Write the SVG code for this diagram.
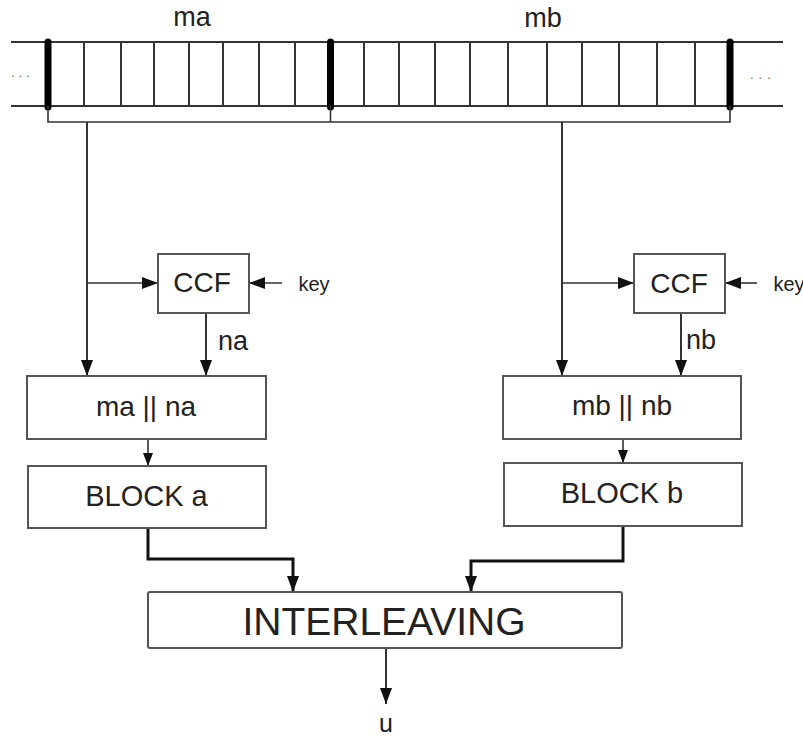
<svg xmlns="http://www.w3.org/2000/svg" width="803" height="739" viewBox="0 0 803 739">
<style>
.box{fill:#fff;stroke:#555;stroke-width:2}
.t{font-family:"Liberation Sans",Arial,sans-serif;fill:#222;text-anchor:middle}
.ln{fill:none;stroke:#333;stroke-width:2}
.thin{fill:none;stroke:#333;stroke-width:1.6}
.thick{fill:none;stroke:#111;stroke-width:3}
.bar{stroke:#000;stroke-width:7;stroke-linecap:round}
</style>
<defs>
<marker id="ah" viewBox="0 0 16 12" markerWidth="16" markerHeight="12" refX="16" refY="6" orient="auto" markerUnits="userSpaceOnUse">
<path d="M0,0 L16,6 L0,12 z" fill="#111"/>
</marker>
<marker id="ahs" viewBox="0 0 13 10" markerWidth="13" markerHeight="10" refX="13" refY="5" orient="auto" markerUnits="userSpaceOnUse">
<path d="M0,0 L13,5 L0,10 z" fill="#111"/>
</marker>
</defs>
<rect width="803" height="739" fill="#fff"/>
<g id="band">
<line class="ln" x1="11" y1="42" x2="783" y2="42"/>
<line class="ln" x1="11" y1="106" x2="783" y2="106"/>
<g class="ln">
<line x1="84" y1="42" x2="84" y2="106"/><line x1="121" y1="42" x2="121" y2="106"/><line x1="154" y1="42" x2="154" y2="106"/><line x1="189" y1="42" x2="189" y2="106"/><line x1="223" y1="42" x2="223" y2="106"/><line x1="259" y1="42" x2="259" y2="106"/><line x1="295" y1="42" x2="295" y2="106"/>
<line x1="364" y1="42" x2="364" y2="106"/><line x1="399" y1="42" x2="399" y2="106"/><line x1="435" y1="42" x2="435" y2="106"/><line x1="470" y1="42" x2="470" y2="106"/><line x1="508" y1="42" x2="508" y2="106"/><line x1="547" y1="42" x2="547" y2="106"/><line x1="582" y1="42" x2="582" y2="106"/><line x1="619" y1="42" x2="619" y2="106"/><line x1="657" y1="42" x2="657" y2="106"/><line x1="695" y1="42" x2="695" y2="106"/>
</g>
<line class="bar" x1="48" y1="42" x2="48" y2="107"/>
<line class="bar" x1="330.5" y1="42" x2="330.5" y2="107"/>
<line class="bar" x1="730" y1="42" x2="730" y2="107"/>
<path class="thin" d="M48,106 V122 H730 V106 M330.5,106 V122"/>
<text class="t" x="192" y="26" font-size="27">ma</text>
<text class="t" x="543" y="27" font-size="27">mb</text>
<text x="11" y="77" font-family="Liberation Sans,sans-serif" font-size="13" fill="#666" letter-spacing="4">...</text>
<text x="750" y="79" font-family="Liberation Sans,sans-serif" font-size="13" fill="#666" letter-spacing="5">...</text>
</g>
<g id="connectors">
<line class="ln" stroke-width="2.5" x1="87" y1="122" x2="87" y2="376" marker-end="url(#ah)"/>
<line class="thin" x1="87" y1="283" x2="158" y2="283" marker-end="url(#ah)"/>
<line class="thin" x1="282" y1="283" x2="249" y2="283" marker-end="url(#ah)"/>
<line class="ln" x1="206" y1="313" x2="206" y2="376" marker-end="url(#ah)"/>
<line class="ln" stroke-width="2.5" x1="562" y1="122" x2="562" y2="376" marker-end="url(#ah)"/>
<line class="thin" x1="562" y1="283" x2="634" y2="283" marker-end="url(#ah)"/>
<line class="thin" x1="757" y1="283" x2="725" y2="283" marker-end="url(#ah)"/>
<line class="ln" x1="681" y1="313" x2="681" y2="376" marker-end="url(#ah)"/>
<line class="thin" x1="148" y1="439" x2="148" y2="466" marker-end="url(#ahs)"/>
<line class="thin" x1="623" y1="439" x2="623" y2="463" marker-end="url(#ahs)"/>
<path class="thick" d="M148,528 V559 H293 V592" marker-end="url(#ah)"/>
<path class="thick" d="M623,526 V561 H471 V592" marker-end="url(#ah)"/>
<line class="ln" x1="386" y1="648" x2="386" y2="704" marker-end="url(#ah)"/>
</g>
<g id="ccf-a">
<rect class="box" x="158" y="254" width="91" height="59"/>
<text class="t" x="202" y="292" font-size="28">CCF</text>
</g>
<g id="key-a"><text class="t" x="314" y="291" font-size="20">key</text></g>
<g id="na-label"><text x="218" y="350" font-family="Liberation Sans,Arial,sans-serif" font-size="27" fill="#222">na</text></g>
<g id="ccf-b">
<rect class="box" x="634" y="254" width="91" height="59"/>
<text class="t" x="679" y="293" font-size="28">CCF</text>
</g>
<g id="key-b"><text class="t" x="789" y="291" font-size="20">key</text></g>
<g id="nb-label"><text x="686" y="349" font-family="Liberation Sans,Arial,sans-serif" font-size="27" fill="#222">nb</text></g>
<g id="concat-a">
<rect class="box" x="27" y="376" width="239" height="63"/>
<text class="t" x="146" y="416" font-size="28">ma || na</text>
</g>
<g id="block-a">
<rect class="box" x="28" y="466" width="238" height="62"/>
<text class="t" x="146.5" y="506" font-size="29">BLOCK a</text>
</g>
<g id="concat-b">
<rect class="box" x="503" y="376" width="238" height="63"/>
<text class="t" x="622" y="415" font-size="28">mb || nb</text>
</g>
<g id="block-b">
<rect class="box" x="504" y="463" width="238" height="63"/>
<text class="t" x="622" y="503" font-size="29">BLOCK b</text>
</g>
<g id="interleaving">
<rect class="box" x="148" y="592" width="474" height="56" rx="2"/>
<text class="t" x="384" y="635" font-size="39" fill="#111">INTERLEAVING</text>
</g>
<g id="output"><text class="t" x="386" y="732" font-size="25">u</text></g>
</svg>
